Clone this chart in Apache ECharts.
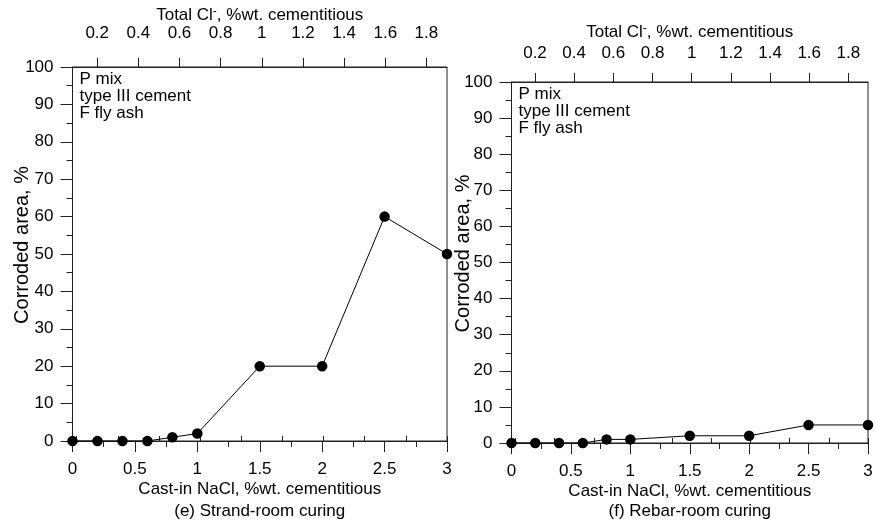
<!DOCTYPE html>
<html>
<head>
<meta charset="utf-8">
<script src="https://cdn.jsdelivr.net/npm/echarts@6/dist/echarts.min.js"></script>
<style>html,body{margin:0;padding:0;background:#fff}#c{width:876px;height:527px}</style>
</head>
<body>
<div id="c"></div>
<script>
// ---- data ----
const naclValues = [0, 0.2, 0.4, 0.6, 0.8, 1, 1.5, 2, 2.5, 3];
const strandArea = [0, 0, 0, 0, 1, 2, 20, 20, 60, 50];
const rebarArea = [0, 0, 0, 0, 1, 1, 2, 2, 5, 5];
const clMajorTicks = [0.2, 0.4, 0.6, 0.8, 1, 1.2, 1.4, 1.6, 1.8];
const clMinorTicks = [0.1, 0.3, 0.5, 0.7, 0.9, 1.1, 1.3, 1.5, 1.7, 1.9];
const clRange = [0.08, 1.9];
const naclRange = [0, 3];
const areaRange = [0, 100];
const annotation = ['P mix', 'type III cement', 'F fly ash'];
const captions = ['(e) Strand-room curing', '(f) Rebar-room curing'];
const xName = 'Cast-in NaCl, %wt. cementitious';
const yName = 'Corroded area, %';

const FONT = '"Liberation Sans", Arial, sans-serif';
const INK = '#000';
const LINE = '#222';
const FS = 17;

const grids = [
  {left: 72.5, top: 67, width: 374.5, height: 374},
  {left: 511.5, top: 82, width: 356.5, height: 361}
];

function fmt(v) { return String(+(+v).toFixed(2)); }

const xAxes = [], yAxes = [], series = [];
const topLabelMargin = [25, 20];
const topNameGap = [43, 41];
const yNameGap = [40, 38];
[strandArea, rebarArea].forEach((vals, i) => {
  xAxes.push({
    gridIndex: i, type: 'value', position: 'bottom', min: naclRange[0], max: naclRange[1], interval: 0.5,
    name: xName, nameLocation: 'middle', nameGap: 40, nameMoveOverlap: false,
    nameTextStyle: {fontFamily: FONT, fontSize: FS, color: INK},
    axisLine: {show: true, onZero: false, lineStyle: {color: LINE, width: 1}},
    axisTick: {show: true, length: 11, lineStyle: {color: LINE, width: 1}},
    minorTick: {show: true, splitNumber: 2, length: 6, lineStyle: {color: LINE, width: 1}},
    splitLine: {show: false},
    axisLabel: {fontFamily: FONT, fontSize: FS, color: INK, margin: 20, formatter: fmt}
  });
  xAxes.push({
    gridIndex: i, type: 'value', position: 'top', min: clRange[0], max: clRange[1],
    name: '{a|Total Cl}{s|-}{a|, %wt. cementitious}', nameLocation: 'middle', nameGap: topNameGap[i], nameMoveOverlap: false,
    nameTextStyle: {rich: {
      a: {fontFamily: FONT, fontSize: FS, color: INK},
      s: {fontFamily: FONT, fontSize: 12, color: INK, verticalAlign: 'top', padding: [0, 0, 6, 0]}
    }},
    axisLine: {show: true, onZero: false, lineStyle: {color: LINE, width: 1}},
    axisTick: {show: true, length: 9, customValues: clMajorTicks, lineStyle: {color: LINE, width: 1}},
    axisLabel: {show: true, customValues: clMajorTicks, fontFamily: FONT, fontSize: FS, color: INK, margin: topLabelMargin[i], formatter: fmt},
    splitLine: {show: false}
  });
  xAxes.push({
    gridIndex: i, type: 'value', position: 'top', min: clRange[0], max: clRange[1],
    axisLine: {show: false},
    axisTick: {show: true, length: 5, customValues: clMinorTicks, lineStyle: {color: LINE, width: 1}},
    axisLabel: {show: false, customValues: clMinorTicks},
    splitLine: {show: false}
  });
  yAxes.push({
    gridIndex: i, type: 'value', min: areaRange[0], max: areaRange[1], interval: 10,
    name: yName, nameLocation: 'middle', nameGap: yNameGap[i], nameMoveOverlap: false,
    nameTextStyle: {fontFamily: FONT, fontSize: 20, color: INK, padding: [0, 0, 0, 18]},
    axisLine: {show: true, onZero: false, lineStyle: {color: LINE, width: 1}},
    axisTick: {show: true, length: 12, lineStyle: {color: LINE, width: 1}},
    minorTick: {show: true, splitNumber: 2, length: 6, lineStyle: {color: LINE, width: 1}},
    splitLine: {show: false},
    axisLabel: {fontFamily: FONT, fontSize: FS, color: INK, margin: 19}
  });
  series.push({
    type: 'line', xAxisIndex: i * 3, yAxisIndex: i,
    data: naclValues.map((x, k) => [x, vals[k]]),
    symbol: 'circle', symbolSize: 10.5, clip: false,
    itemStyle: {color: '#000'},
    lineStyle: {color: '#000', width: 1},
    z: 5
  });
});

const graphic = [];
grids.forEach((g, i) => {
  graphic.push({
    type: 'text', left: g.left + 7, top: g.top + 4, z: 10,
    style: {text: annotation.join('\n'), font: FS + 'px ' + FONT, lineHeight: 17, fill: INK}
  });
  graphic.push({
    type: 'text', x: g.left + g.width / 2, y: 511, z: 10,
    style: {text: captions[i], font: FS + 'px ' + FONT, fill: INK, textAlign: 'center', textVerticalAlign: 'middle'}
  });
});

const chart = echarts.init(document.getElementById('c'), null, {renderer: 'canvas'});
chart.setOption({
  animation: false,
  backgroundColor: '#fff',
  grid: grids.map(g => Object.assign({show: true, borderColor: LINE, borderWidth: 1, backgroundColor: 'transparent', containLabel: false}, g)),
  xAxis: xAxes,
  yAxis: yAxes,
  series: series,
  graphic: graphic
});
</script>
</body>
</html>
